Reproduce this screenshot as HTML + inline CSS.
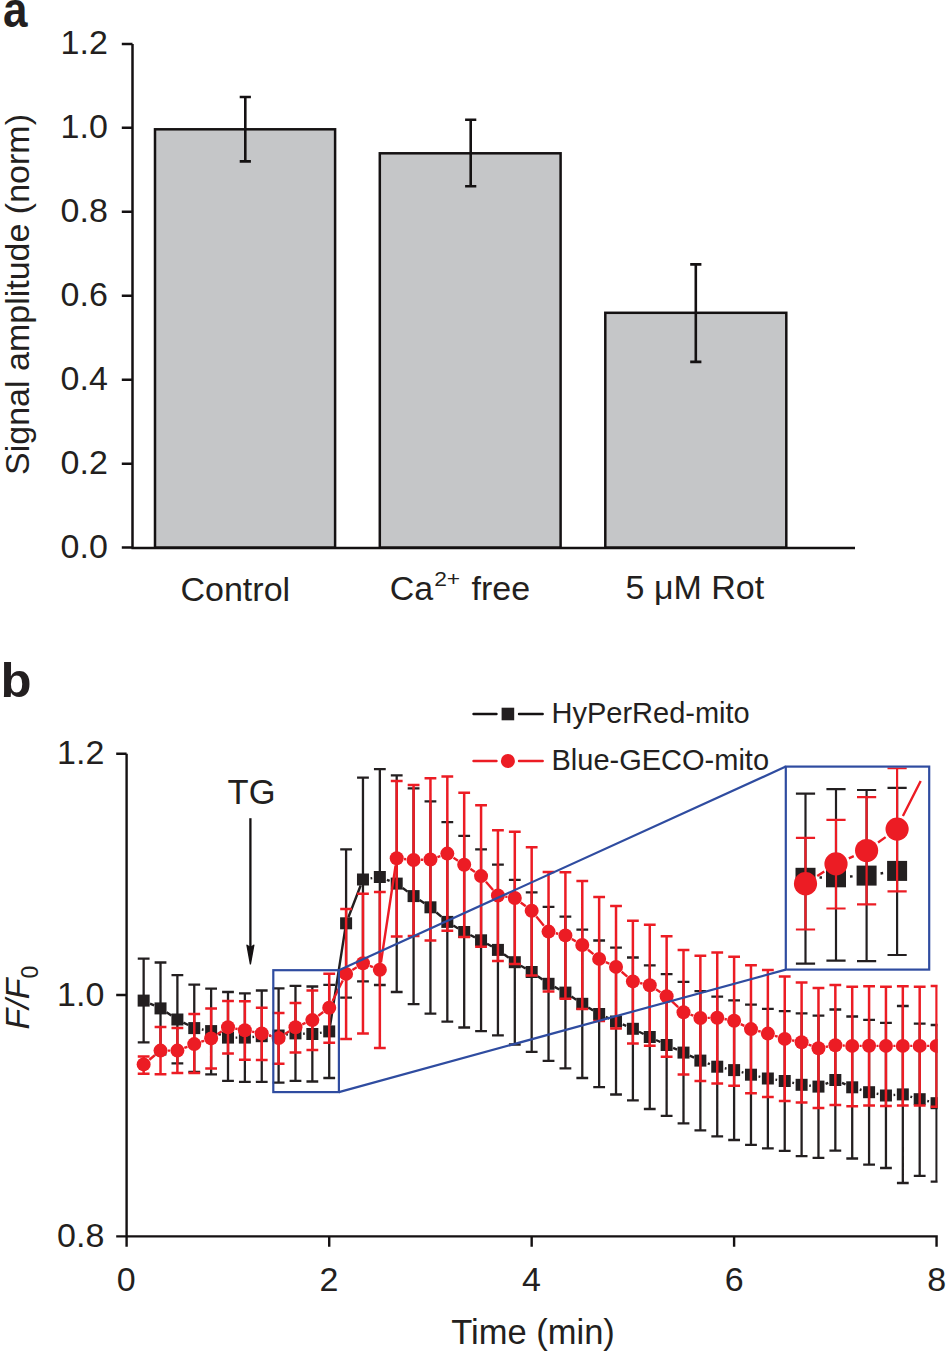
<!DOCTYPE html><html><head><meta charset="utf-8"><title>Figure</title><style>html,body{margin:0;padding:0;background:#fff;}svg{display:block;}text{font-family:"Liberation Sans",sans-serif;fill:#231f20;}</style></head><body>
<svg width="946" height="1353" viewBox="0 0 946 1353">
<rect x="0" y="0" width="946" height="1353" fill="#fff"/>
<text transform="translate(3.1,27.1) scale(0.88,1)" style="font-weight:bold;font-size:50px">a</text>
<rect x="155" y="129.3" width="180.1" height="418.3" fill="#c5c6c8" stroke="#141112" stroke-width="2.5"/>
<path d="M245.3 97V161.4M239.7 97H250.9M239.7 161.4H250.9" stroke="#141112" stroke-width="2.6" fill="none"/>
<rect x="379.8" y="153.3" width="180.8" height="394.3" fill="#c5c6c8" stroke="#141112" stroke-width="2.5"/>
<path d="M470.7 119.8V186.3M465.1 119.8H476.3M465.1 186.3H476.3" stroke="#141112" stroke-width="2.6" fill="none"/>
<rect x="605.3" y="312.8" width="181" height="234.8" fill="#c5c6c8" stroke="#141112" stroke-width="2.5"/>
<path d="M695.8 264.4V361.9M690.2 264.4H701.4M690.2 361.9H701.4" stroke="#141112" stroke-width="2.6" fill="none"/>
<path d="M132.5 43.9V547.6M131.4 547.9H855M121.8 547.6H132.5M121.8 463.65H132.5M121.8 379.7H132.5M121.8 295.75H132.5M121.8 211.8H132.5M121.8 127.85H132.5M121.8 43.9H132.5" stroke="#141112" stroke-width="2.5" fill="none"/>
<text x="107.8" y="558.15" text-anchor="end" style="font-size:34px">0.0</text>
<text x="107.8" y="474.2" text-anchor="end" style="font-size:34px">0.2</text>
<text x="107.8" y="390.25" text-anchor="end" style="font-size:34px">0.4</text>
<text x="107.8" y="306.3" text-anchor="end" style="font-size:34px">0.6</text>
<text x="107.8" y="222.35" text-anchor="end" style="font-size:34px">0.8</text>
<text x="107.8" y="138.4" text-anchor="end" style="font-size:34px">1.0</text>
<text x="107.8" y="54.45" text-anchor="end" style="font-size:34px">1.2</text>
<text transform="translate(28.9,475) rotate(-90)" style="font-size:34px" textLength="361" lengthAdjust="spacingAndGlyphs">Signal amplitude (norm)</text>
<text x="180.5" y="600.9" style="font-size:34px">Control</text>
<text x="389.8" y="600.4" style="font-size:34px">Ca</text><text x="434.2" y="586.3" style="font-size:21px" textLength="26" lengthAdjust="spacingAndGlyphs">2+</text><text x="471.6" y="600.4" style="font-size:34px">free</text>
<text x="625.6" y="598.9" style="font-size:34px">5 μM Rot</text>
<text transform="translate(0.6,697.4) scale(1.06,1)" style="font-weight:bold;font-size:48px">b</text>
<path d="M126.6 753.7V1246.8M125.4 1236.4H937.8M116.2 1236.4H126.6M116.2 995.05H126.6M116.2 753.7H126.6M329.22 1236.4V1246.8M531.67 1236.4V1246.8M734.11 1236.4V1246.8M936.56 1236.4V1246.8" stroke="#141112" stroke-width="2.4" fill="none"/>
<text x="104.3" y="1246.9" text-anchor="end" style="font-size:34px">0.8</text>
<text x="104.3" y="1005.55" text-anchor="end" style="font-size:34px">1.0</text>
<text x="104.3" y="764.2" text-anchor="end" style="font-size:34px">1.2</text>
<text x="126.3" y="1291" text-anchor="middle" style="font-size:34px">0</text>
<text x="328.9" y="1291" text-anchor="middle" style="font-size:34px">2</text>
<text x="531.5" y="1291" text-anchor="middle" style="font-size:34px">4</text>
<text x="734.1" y="1291" text-anchor="middle" style="font-size:34px">6</text>
<text x="936.7" y="1291" text-anchor="middle" style="font-size:34px">8</text>
<text x="451.3" y="1344.4" style="font-size:34.5px">Time (min)</text>
<text transform="translate(28.9,1029.5) rotate(-90)" style="font-size:34px"><tspan style="font-style:italic">F</tspan><tspan style="font-style:italic">/F</tspan><tspan dy="9" style="font-size:23px">0</tspan></text>
<text x="227.6" y="803.8" style="font-size:34.5px">TG</text>
<path d="M250.4 818.2V950" stroke="#141112" stroke-width="2.3" fill="none"/>
<path d="M247 945.2L250.4 963.8L253.8 945.2L250.4 947.6Z" fill="#141112" stroke="#141112" stroke-width="1.4" stroke-linejoin="round"/>
<path d="M473.5 714H496.5M519 714H542.7" stroke="#141112" stroke-width="2.4" stroke-linecap="round"/>
<rect x="501.6" y="707.7" width="12.6" height="12.6" fill="#231f20"/>
<path d="M473.5 761H496.5M519 761H542.7" stroke="#ec1c24" stroke-width="2.4" stroke-linecap="round"/>
<circle cx="507.9" cy="761" r="7" fill="#ec1c24"/>
<text x="551.5" y="723.3" style="font-size:29px">HyPerRed-mito</text>
<text x="551.5" y="770" style="font-size:29px">Blue-GECO-mito</text>
<defs><clipPath id="cp"><rect x="120" y="740" width="817.6" height="520"/></clipPath></defs>
<g clip-path="url(#cp)">
<path d="M150.01 1003.54L154.16 1005.46M166.52 1012.35L171.39 1015.55M183.39 1022.56L188.26 1025.04M201.84 1029.45L203.56 1029.75M218.27 1033.85L220.86 1034.85M235.6 1037.6L237.27 1037.6M252.47 1036.97L254.15 1036.83M269.34 1035.88L271.01 1035.82M286.2 1034.56L287.9 1034.34M303.08 1033.67L304.76 1033.73M319.94 1032.83L321.64 1032.57M330.16 1025.4L345.16 929.3M348.41 917.3L360.65 885.5M370.55 878.38L372.25 878.12M386.92 879.77L389.63 880.83M402.71 888.05L407.58 891.65M419.58 900.08L424.45 903.32M436.45 912.49L441.32 916.71M453.32 925.49L458.19 928.41M470.26 934.99L474.98 937.31M487.06 943.71L491.93 946.49M503.93 954.27L508.8 957.83M520.8 965.69L525.67 968.51M537.67 976.2L542.54 979.6M554.54 986.93L559.41 989.47M571.41 996.58L576.28 999.82M588.28 1007.43L593.15 1010.37M605.69 1016.91L609.48 1018.59M622.68 1024.38L626.23 1025.92M639.03 1031.78L643.63 1034.02M656.01 1039.96L660.38 1042.04M673.11 1047.92L677.02 1049.68M689.75 1055.56L694.12 1057.64M707.76 1063.27L709.86 1064.03M724.81 1068.23L726.55 1068.57M741.66 1072.16L743.44 1072.64M758.55 1076.4L760.29 1076.8M775.44 1079.62L777.14 1079.88M792.29 1082.7L794.04 1083.1M809.19 1085.61L810.88 1085.79M825.55 1083.83L828.26 1082.77M842 1082.88L845.55 1084.42M859.74 1089.49L861.54 1090.01M876.65 1093.68L878.38 1094.02M893.54 1095L895.22 1094.9M910.36 1096.54L912.15 1097.06M927.25 1100.99L929 1101.41" fill="none" stroke="#231f20" stroke-width="2.4"/>
<path d="M143.65 958.6V1042.3M137.75 958.6H149.55M137.75 1042.3H149.55M160.52 962.5V1054.3M154.62 962.5H166.42M154.62 1054.3H166.42M177.39 975.2V1063.4M171.49 975.2H183.29M171.49 1063.4H183.29M194.26 984.7V1071.9M188.36 984.7H200.16M188.36 1071.9H200.16M211.13 988.7V1074.3M205.23 988.7H217.03M205.23 1074.3H217.03M228 992V1080.8M222.1 992H233.9M222.1 1080.8H233.9M244.87 993.4V1081.9M238.97 993.4H250.77M238.97 1081.9H250.77M261.74 990.5V1081.9M255.84 990.5H267.64M255.84 1081.9H267.64M278.61 988.3V1082.7M272.71 988.3H284.51M272.71 1082.7H284.51M295.48 985.8V1080.9M289.58 985.8H301.38M289.58 1080.9H301.38M312.35 986.5V1081.5M306.45 986.5H318.25M306.45 1081.5H318.25M329.22 984.8V1078M323.32 984.8H335.12M323.32 1078H335.12M346.1 849.3V997.6M340.2 849.3H352M340.2 997.6H352M362.97 777.7V981.4M357.07 777.7H368.87M357.07 981.4H368.87M379.84 769.2V985M373.94 769.2H385.74M373.94 985H385.74M396.71 775.4V992M390.81 775.4H402.61M390.81 992H402.61M413.58 788.4V1004.1M407.68 788.4H419.48M407.68 1004.1H419.48M430.45 801.4V1013.6M424.55 801.4H436.35M424.55 1013.6H436.35M447.32 822.2V1021.7M441.42 822.2H453.22M441.42 1021.7H453.22M464.19 835.9V1027.5M458.29 835.9H470.09M458.29 1027.5H470.09M481.06 849.4V1031.2M475.16 849.4H486.96M475.16 1031.2H486.96M497.93 864.7V1035.4M492.03 864.7H503.83M492.03 1035.4H503.83M514.8 879.9V1044.5M508.9 879.9H520.7M508.9 1044.5H520.7M531.67 892.3V1051.8M525.77 892.3H537.57M525.77 1051.8H537.57M548.54 906.9V1060.9M542.64 906.9H554.44M542.64 1060.9H554.44M565.41 916.7V1068.4M559.51 916.7H571.31M559.51 1068.4H571.31M582.28 929.7V1078M576.38 929.7H588.18M576.38 1078H588.18M599.15 940.5V1087.2M593.25 940.5H605.05M593.25 1087.2H605.05M616.02 947.7V1094.5M610.12 947.7H621.92M610.12 1094.5H621.92M632.89 957.5V1100.3M626.99 957.5H638.79M626.99 1100.3H638.79M649.76 965.3V1109M643.86 965.3H655.66M643.86 1109H655.66M666.63 974.2V1115.8M660.73 974.2H672.53M660.73 1115.8H672.53M683.5 981.8V1123.3M677.6 981.8H689.4M677.6 1123.3H689.4M700.37 991.1V1130.4M694.47 991.1H706.27M694.47 1130.4H706.27M717.24 996.7V1136.4M711.34 996.7H723.14M711.34 1136.4H723.14M734.11 1000.3V1140M728.21 1000.3H740.01M728.21 1140H740.01M750.98 1004.7V1144.8M745.08 1004.7H756.88M745.08 1144.8H756.88M767.86 1008.8V1148.3M761.96 1008.8H773.76M761.96 1148.3H773.76M784.73 1011.1V1150.9M778.83 1011.1H790.63M778.83 1150.9H790.63M801.6 1013.3V1156.2M795.7 1013.3H807.5M795.7 1156.2H807.5M818.47 1015.6V1157.9M812.57 1015.6H824.37M812.57 1157.9H824.37M835.34 1009.5V1150.7M829.44 1009.5H841.24M829.44 1150.7H841.24M852.21 1016.5V1158.5M846.31 1016.5H858.11M846.31 1158.5H858.11M869.08 1019.9V1164.6M863.18 1019.9H874.98M863.18 1164.6H874.98M885.95 1022.8V1168M880.05 1022.8H891.85M880.05 1168H891.85M902.82 1006V1183M896.92 1006H908.72M896.92 1183H908.72M919.69 1023.7V1175.9M913.79 1023.7H925.59M913.79 1175.9H925.59M936.56 1025V1181.6M930.66 1025H942.46M930.66 1181.6H942.46" fill="none" stroke="#231f20" stroke-width="2.3"/>
<rect x="137.65" y="994.6" width="12" height="12" fill="#231f20"/>
<rect x="154.52" y="1002.4" width="12" height="12" fill="#231f20"/>
<rect x="171.39" y="1013.5" width="12" height="12" fill="#231f20"/>
<rect x="188.26" y="1022.1" width="12" height="12" fill="#231f20"/>
<rect x="205.13" y="1025.1" width="12" height="12" fill="#231f20"/>
<rect x="222" y="1031.6" width="12" height="12" fill="#231f20"/>
<rect x="238.87" y="1031.6" width="12" height="12" fill="#231f20"/>
<rect x="255.74" y="1030.2" width="12" height="12" fill="#231f20"/>
<rect x="272.61" y="1029.5" width="12" height="12" fill="#231f20"/>
<rect x="289.48" y="1027.4" width="12" height="12" fill="#231f20"/>
<rect x="306.35" y="1028" width="12" height="12" fill="#231f20"/>
<rect x="323.22" y="1025.4" width="12" height="12" fill="#231f20"/>
<rect x="340.1" y="917.3" width="12" height="12" fill="#231f20"/>
<rect x="356.97" y="873.5" width="12" height="12" fill="#231f20"/>
<rect x="373.84" y="871" width="12" height="12" fill="#231f20"/>
<rect x="390.71" y="877.6" width="12" height="12" fill="#231f20"/>
<rect x="407.58" y="890.1" width="12" height="12" fill="#231f20"/>
<rect x="424.45" y="901.3" width="12" height="12" fill="#231f20"/>
<rect x="441.32" y="915.9" width="12" height="12" fill="#231f20"/>
<rect x="458.19" y="926" width="12" height="12" fill="#231f20"/>
<rect x="475.06" y="934.3" width="12" height="12" fill="#231f20"/>
<rect x="491.93" y="943.9" width="12" height="12" fill="#231f20"/>
<rect x="508.8" y="956.2" width="12" height="12" fill="#231f20"/>
<rect x="525.67" y="966" width="12" height="12" fill="#231f20"/>
<rect x="542.54" y="977.8" width="12" height="12" fill="#231f20"/>
<rect x="559.41" y="986.6" width="12" height="12" fill="#231f20"/>
<rect x="576.28" y="997.8" width="12" height="12" fill="#231f20"/>
<rect x="593.15" y="1008" width="12" height="12" fill="#231f20"/>
<rect x="610.02" y="1015.5" width="12" height="12" fill="#231f20"/>
<rect x="626.89" y="1022.8" width="12" height="12" fill="#231f20"/>
<rect x="643.76" y="1031" width="12" height="12" fill="#231f20"/>
<rect x="660.63" y="1039" width="12" height="12" fill="#231f20"/>
<rect x="677.5" y="1046.6" width="12" height="12" fill="#231f20"/>
<rect x="694.37" y="1054.6" width="12" height="12" fill="#231f20"/>
<rect x="711.24" y="1060.7" width="12" height="12" fill="#231f20"/>
<rect x="728.11" y="1064.1" width="12" height="12" fill="#231f20"/>
<rect x="744.98" y="1068.7" width="12" height="12" fill="#231f20"/>
<rect x="761.86" y="1072.5" width="12" height="12" fill="#231f20"/>
<rect x="778.73" y="1075" width="12" height="12" fill="#231f20"/>
<rect x="795.6" y="1078.8" width="12" height="12" fill="#231f20"/>
<rect x="812.47" y="1080.6" width="12" height="12" fill="#231f20"/>
<rect x="829.34" y="1074" width="12" height="12" fill="#231f20"/>
<rect x="846.21" y="1081.3" width="12" height="12" fill="#231f20"/>
<rect x="863.08" y="1086.2" width="12" height="12" fill="#231f20"/>
<rect x="879.95" y="1089.5" width="12" height="12" fill="#231f20"/>
<rect x="896.82" y="1088.4" width="12" height="12" fill="#231f20"/>
<rect x="913.69" y="1093.2" width="12" height="12" fill="#231f20"/>
<rect x="930.56" y="1097.2" width="12" height="12" fill="#231f20"/>
<path d="M149.38 1059.71L154.79 1055.29M167.92 1050.6L169.99 1050.6M184.3 1047.94L187.36 1046.76M201.27 1041.73L204.12 1040.77M217.31 1034.33L221.82 1031.37M235.29 1028.6L237.59 1029M252.14 1031.68L254.47 1032.12M268.88 1035.45L271.47 1036.15M284.83 1034.08L289.27 1031.22M302.3 1024.33L305.53 1022.97M318.32 1015.72L323.26 1012.08M332.53 1001.08L342.79 980.52M352.36 969.96L356.7 967.24M369.87 965.96L372.93 967.14M380.94 962.48L395.6 865.52M404.06 858.99L406.22 859.21M420.97 859.78L423.05 859.72M437.43 857.06L440.33 856.04M453.5 857.67L458.01 860.63M470.32 868.84L474.93 871.96M485.91 881.68L493.07 889.92M505.25 896.58L507.48 896.92M520.69 902.47L525.77 906.33M536.33 916.55L543.88 925.85M555.76 933.23L558.19 933.77M571.84 939.06L575.85 941.34M587.99 949.71L593.44 954.19M605.84 962.07L609.34 963.73M621.63 971.72L627.28 976.58M640.11 983.03L642.54 983.57M655.96 989.24L660.43 992.16M671.99 1001.31L678.15 1007.19M690.51 1014.67L693.36 1015.63M707.77 1017.87L709.85 1017.83M724.52 1019.04L726.84 1019.46M740.75 1024.07L744.34 1025.83M758.13 1031.01L760.71 1031.69M774.92 1035.82L777.67 1036.68M791.99 1040.32L794.33 1040.78M808.57 1044.68L811.49 1045.72M825.75 1046.9L828.05 1046.5M842.73 1045.51L844.81 1045.59M859.61 1045.86L861.68 1045.84M876.48 1045.84L878.55 1045.86M893.35 1045.9L895.42 1045.9M910.22 1045.9L912.29 1045.9M927.09 1045.9L929.16 1045.9" fill="none" stroke="#ec1c24" stroke-width="2.4"/>
<path d="M143.65 1056.5V1073.7M137.75 1056.5H149.55M137.75 1073.7H149.55M160.52 1026.9V1074.2M154.62 1026.9H166.42M154.62 1074.2H166.42M177.39 1028.1V1073.1M171.49 1028.1H183.29M171.49 1073.1H183.29M194.26 1013.9V1073.1M188.36 1013.9H200.16M188.36 1073.1H200.16M211.13 1008.6V1068.4M205.23 1008.6H217.03M205.23 1068.4H217.03M228 1000.9V1053.6M222.1 1000.9H233.9M222.1 1053.6H233.9M244.87 1001.3V1059.7M238.97 1001.3H250.77M238.97 1059.7H250.77M261.74 1007.7V1060M255.84 1007.7H267.64M255.84 1060H267.64M278.61 1012.9V1063.8M272.71 1012.9H284.51M272.71 1063.8H284.51M295.48 1003V1052.4M289.58 1003H301.38M289.58 1052.4H301.38M312.35 990.5V1049.9M306.45 990.5H318.25M306.45 1049.9H318.25M329.22 973.7V1042.8M323.32 973.7H335.12M323.32 1042.8H335.12M346.1 908.9V1039M340.2 908.9H352M340.2 1039H352M362.97 893.7V1033.4M357.07 893.7H368.87M357.07 1033.4H368.87M379.84 891.9V1047.9M373.94 891.9H385.74M373.94 1047.9H385.74M396.71 781.1V936.4M390.81 781.1H402.61M390.81 936.4H402.61M413.58 785.1V936.1M407.68 785.1H419.48M407.68 936.1H419.48M430.45 778.3V940.5M424.55 778.3H436.35M424.55 940.5H436.35M447.32 776.5V930.7M441.42 776.5H453.22M441.42 930.7H453.22M464.19 792.7V937M458.29 792.7H470.09M458.29 937H470.09M481.06 805.3V946.8M475.16 805.3H486.96M475.16 946.8H486.96M497.93 830.2V961M492.03 830.2H503.83M492.03 961H503.83M514.8 831.7V964M508.9 831.7H520.7M508.9 964H520.7M531.67 847.2V975.5M525.77 847.2H537.57M525.77 975.5H537.57M548.54 872V991.6M542.64 872H554.44M542.64 991.6H554.44M565.41 872.3V998.8M559.51 872.3H571.31M559.51 998.8H571.31M582.28 881.1V1009M576.38 881.1H588.18M576.38 1009H588.18M599.15 897V1020.9M593.25 897H605.05M593.25 1020.9H605.05M616.02 905.9V1028.4M610.12 905.9H621.92M610.12 1028.4H621.92M632.89 920.8V1043.6M626.99 920.8H638.79M626.99 1043.6H638.79M649.76 924.7V1045.8M643.86 924.7H655.66M643.86 1045.8H655.66M666.63 936.2V1056.8M660.73 936.2H672.53M660.73 1056.8H672.53M683.5 949.9V1074.5M677.6 949.9H689.4M677.6 1074.5H689.4M700.37 955.8V1081M694.47 955.8H706.27M694.47 1081H706.27M717.24 952.6V1083.5M711.34 952.6H723.14M711.34 1083.5H723.14M734.11 956.8V1085.8M728.21 956.8H740.01M728.21 1085.8H740.01M750.98 965.3V1093.3M745.08 965.3H756.88M745.08 1093.3H756.88M767.86 970.1V1097.1M761.96 970.1H773.76M761.96 1097.1H773.76M784.73 976.5V1100.9M778.83 976.5H790.63M778.83 1100.9H790.63M801.6 982.6V1102.4M795.7 982.6H807.5M795.7 1102.4H807.5M818.47 987.9V1107.9M812.57 987.9H824.37M812.57 1107.9H824.37M835.34 985.1V1104.9M829.44 985.1H841.24M829.44 1104.9H841.24M852.21 986.7V1106.3M846.31 986.7H858.11M846.31 1106.3H858.11M869.08 986.3V1105.6M863.18 986.3H874.98M863.18 1105.6H874.98M885.95 986.7V1106M880.05 986.7H891.85M880.05 1106H891.85M902.82 986.3V1105.6M896.92 986.3H908.72M896.92 1105.6H908.72M919.69 986.7V1105.6M913.79 986.7H925.59M913.79 1105.6H925.59M936.56 985.9V1106.7M930.66 985.9H942.46M930.66 1106.7H942.46" fill="none" stroke="#ec1c24" stroke-width="2.5"/>
<circle cx="143.65" cy="1064.4" r="7" fill="#ec1c24"/>
<circle cx="160.52" cy="1050.6" r="7" fill="#ec1c24"/>
<circle cx="177.39" cy="1050.6" r="7" fill="#ec1c24"/>
<circle cx="194.26" cy="1044.1" r="7" fill="#ec1c24"/>
<circle cx="211.13" cy="1038.4" r="7" fill="#ec1c24"/>
<circle cx="228" cy="1027.3" r="7" fill="#ec1c24"/>
<circle cx="244.87" cy="1030.3" r="7" fill="#ec1c24"/>
<circle cx="261.74" cy="1033.5" r="7" fill="#ec1c24"/>
<circle cx="278.61" cy="1038.1" r="7" fill="#ec1c24"/>
<circle cx="295.48" cy="1027.2" r="7" fill="#ec1c24"/>
<circle cx="312.35" cy="1020.1" r="7" fill="#ec1c24"/>
<circle cx="329.22" cy="1007.7" r="7" fill="#ec1c24"/>
<circle cx="346.1" cy="973.9" r="7" fill="#ec1c24"/>
<circle cx="362.97" cy="963.3" r="7" fill="#ec1c24"/>
<circle cx="379.84" cy="969.8" r="7" fill="#ec1c24"/>
<circle cx="396.71" cy="858.2" r="7" fill="#ec1c24"/>
<circle cx="413.58" cy="860" r="7" fill="#ec1c24"/>
<circle cx="430.45" cy="859.5" r="7" fill="#ec1c24"/>
<circle cx="447.32" cy="853.6" r="7" fill="#ec1c24"/>
<circle cx="464.19" cy="864.7" r="7" fill="#ec1c24"/>
<circle cx="481.06" cy="876.1" r="7" fill="#ec1c24"/>
<circle cx="497.93" cy="895.5" r="7" fill="#ec1c24"/>
<circle cx="514.8" cy="898" r="7" fill="#ec1c24"/>
<circle cx="531.67" cy="910.8" r="7" fill="#ec1c24"/>
<circle cx="548.54" cy="931.6" r="7" fill="#ec1c24"/>
<circle cx="565.41" cy="935.4" r="7" fill="#ec1c24"/>
<circle cx="582.28" cy="945" r="7" fill="#ec1c24"/>
<circle cx="599.15" cy="958.9" r="7" fill="#ec1c24"/>
<circle cx="616.02" cy="966.9" r="7" fill="#ec1c24"/>
<circle cx="632.89" cy="981.4" r="7" fill="#ec1c24"/>
<circle cx="649.76" cy="985.2" r="7" fill="#ec1c24"/>
<circle cx="666.63" cy="996.2" r="7" fill="#ec1c24"/>
<circle cx="683.5" cy="1012.3" r="7" fill="#ec1c24"/>
<circle cx="700.37" cy="1018" r="7" fill="#ec1c24"/>
<circle cx="717.24" cy="1017.7" r="7" fill="#ec1c24"/>
<circle cx="734.11" cy="1020.8" r="7" fill="#ec1c24"/>
<circle cx="750.98" cy="1029.1" r="7" fill="#ec1c24"/>
<circle cx="767.86" cy="1033.6" r="7" fill="#ec1c24"/>
<circle cx="784.73" cy="1038.9" r="7" fill="#ec1c24"/>
<circle cx="801.6" cy="1042.2" r="7" fill="#ec1c24"/>
<circle cx="818.47" cy="1048.2" r="7" fill="#ec1c24"/>
<circle cx="835.34" cy="1045.2" r="7" fill="#ec1c24"/>
<circle cx="852.21" cy="1045.9" r="7" fill="#ec1c24"/>
<circle cx="869.08" cy="1045.8" r="7" fill="#ec1c24"/>
<circle cx="885.95" cy="1045.9" r="7" fill="#ec1c24"/>
<circle cx="902.82" cy="1045.9" r="7" fill="#ec1c24"/>
<circle cx="919.69" cy="1045.9" r="7" fill="#ec1c24"/>
<circle cx="936.56" cy="1045.9" r="7" fill="#ec1c24"/>
</g>
<rect x="785.8" y="766.6" width="143.4" height="203" fill="#fff"/>
<defs><clipPath id="ci"><rect x="786.7" y="767.5" width="141.6" height="201.2"/></clipPath></defs>
<g clip-path="url(#ci)">
<path d="M819.5 877.57L822 877.53M849.99 876.52L852.61 876.38M880.55 873.45L883.15 873.05" fill="none" stroke="#231f20" stroke-width="2.4"/>
<path d="M805.5 793.7V963.6M795.9 793.7H815.1M795.9 963.6H815.1M836 789.1V960.6M826.4 789.1H845.6M826.4 960.6H845.6M866.6 790V961.2M857 790H876.2M857 961.2H876.2M897.1 787.8V955M887.5 787.8H906.7M887.5 955H906.7" fill="none" stroke="#231f20" stroke-width="2.2"/>
<rect x="795.5" y="867.8" width="20" height="20" fill="#231f20"/>
<rect x="826" y="867.3" width="20" height="20" fill="#231f20"/>
<rect x="856.6" y="865.6" width="20" height="20" fill="#231f20"/>
<rect x="887.1" y="860.9" width="20" height="20" fill="#231f20"/>
<path d="M817.24 876.08L824.26 871.52M848.82 858.28L853.78 856.12M878.06 842.46L885.64 837.14M902.9 816L920.7 781" fill="none" stroke="#ec1c24" stroke-width="2.4"/>
<path d="M805.5 837.9V929.5M795.9 837.9H815.1M795.9 929.5H815.1M836 819.8V908.5M826.4 819.8H845.6M826.4 908.5H845.6M866.6 797.1V904.4M857 797.1H876.2M857 904.4H876.2M897.1 768.2V891.4M887.5 768.2H906.7M887.5 891.4H906.7" fill="none" stroke="#ec1c24" stroke-width="2.2"/>
<circle cx="805.5" cy="883.7" r="11.6" fill="#ec1c24"/>
<circle cx="836" cy="863.9" r="11.6" fill="#ec1c24"/>
<circle cx="866.6" cy="850.5" r="11.6" fill="#ec1c24"/>
<circle cx="897.1" cy="829.1" r="11.6" fill="#ec1c24"/>
</g>
<rect x="785.8" y="766.6" width="143.4" height="203" fill="none" stroke="#2f4ca0" stroke-width="2.2"/>
<rect x="273.3" y="970.2" width="65.6" height="121.9" fill="none" stroke="#2f4ca0" stroke-width="2.2"/>
<path d="M338.9 970.2L785.8 766.6M338.9 1092.1L785.8 969.6" stroke="#2f4ca0" stroke-width="2.2" fill="none"/>
</svg></body></html>
